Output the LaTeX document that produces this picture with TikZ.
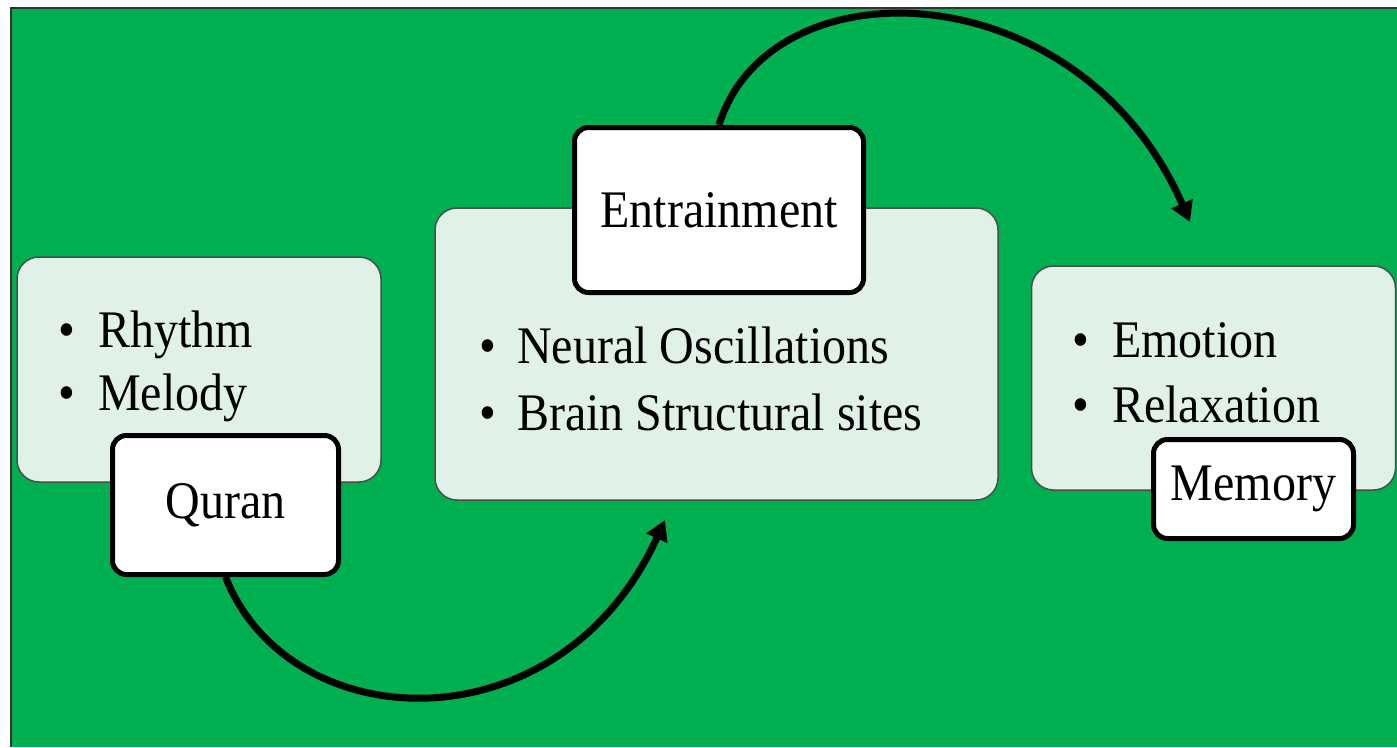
\documentclass[tikz,border=0pt]{standalone}
\usepackage{fontspec}
\setmainfont{Liberation Serif}
\usetikzlibrary{arrows.meta}
\definecolor{bggreen}{RGB}{0,176,80}
\definecolor{lightfill}{RGB}{224,241,232}
\definecolor{lightedge}{RGB}{70,80,75}
\tikzset{
  lightbox/.style={draw=lightedge, line width=1.5pt, fill=lightfill, rounded corners=22pt, inner sep=0pt},
  whitebox/.style={draw=black, line width=5pt, fill=white, rounded corners=14pt, inner sep=0pt,
     font=\fontsize{48}{58}\selectfont},
  bul/.style={anchor=base, inner sep=0pt, font=\fontsize{48}{58}\selectfont},
  itemtxt/.style={anchor=base west, inner sep=0pt, font=\fontsize{48}{58}\selectfont},
  arc/.style={line width=7pt, -{Triangle[length=20pt,width=22pt]}}
}
\newcommand{\vs}[1]{\scalebox{1}[1.1]{#1}}
\begin{document}
\begin{tikzpicture}[x=1pt,y=-1pt]
\useasboundingbox (0,0) rectangle (1397,747);
\fill[white] (0,0) rectangle (1397,747);
\fill[bggreen] (11,8) rectangle (1397,747);
\draw[line width=2.5pt, black!80] (11,747) -- (11,8) -- (1397,8);

% light boxes
\node[lightbox, minimum width=364pt, minimum height=225pt] (lb1) at (199,369.5) {};
\node[lightbox, minimum width=563pt, minimum height=292pt] (lb2) at (716.5,354) {};
\node[lightbox, minimum width=364pt, minimum height=224pt] (lb3) at (1213.5,378) {};

% bullets and items
\node[bul] (b1) at (67,347) {\vs{\textbullet}};
\node[itemtxt] (t1) at (98,347) {\vs{Rhythm}};
\node[bul] (b2) at (67,410) {\vs{\textbullet}};
\node[itemtxt] (t2) at (98,410) {\vs{Melody}};

\node[bul] (b3) at (488,363) {\vs{\textbullet}};
\node[itemtxt] (t3) at (517,363) {\vs{Neural Oscillations}};
\node[bul] (b4) at (488,430) {\vs{\textbullet}};
\node[itemtxt] (t4) at (517,430) {\vs{Brain Structural sites}};

\node[bul] (b5) at (1081,357) {\vs{\textbullet}};
\node[itemtxt] (t5) at (1112,357) {\vs{Emotion}};
\node[bul] (b6) at (1081,422) {\vs{\textbullet}};
\node[itemtxt] (t6) at (1112,422) {\vs{Relaxation}};

% white boxes
\node[whitebox, minimum width=226pt, minimum height=139pt] (quran) at (225.5,505) {\vs{Quran}};
\node[whitebox, minimum width=289pt, minimum height=165pt] (entr) at (719,210) {\vs{Entrainment}};
\node[whitebox, minimum width=200pt, minimum height=99pt] (mem) at (1253.5,489) {\vs{Memory}};

% arrow ends
\coordinate (tipA) at (665,520);
\coordinate (tipB) at (1190,222);

\draw[arc] (quran.south) .. controls (290,740) and (560,750) .. (tipA);
\draw[arc] (entr.north) .. controls (770,-40) and (1080,-30) .. (tipB);
\end{tikzpicture}
\end{document}
